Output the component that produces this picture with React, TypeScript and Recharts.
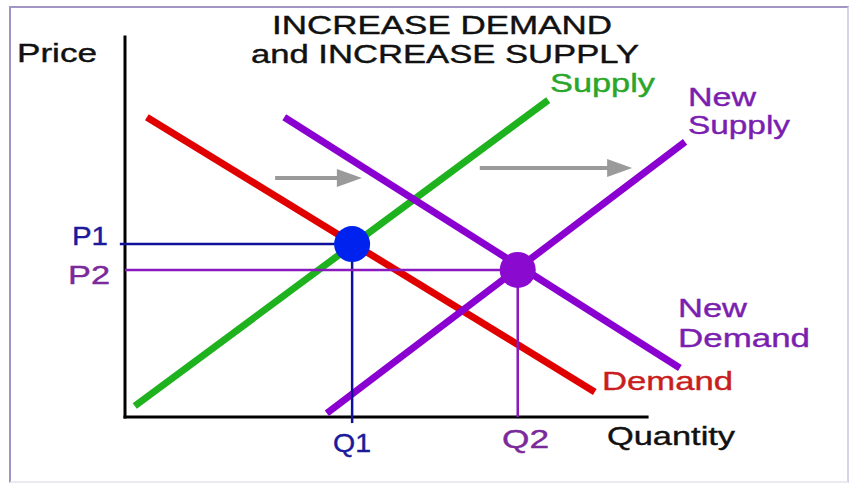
import { ComposedChart, Customized, Line, ReferenceDot, ReferenceLine, XAxis, YAxis } from "recharts";

// curves (q = quantity, p = price, both 0..10)
const demand = [{ q: 0.38, p: 7.89 }, { q: 8.17, p: 0.66 }];
const supply = [{ q: 0.17, p: 0.29 }, { q: 7.36, p: 8.34 }];
const newSupply = [{ q: 3.51, p: 0.1 }, { q: 9.74, p: 7.24 }];
const newDemand = [{ q: 2.77, p: 7.89 }, { q: 9.65, p: 1.29 }];

// equilibria
const eq1 = { q: 3.95, p: 4.55 };
const eq2 = { q: 6.83, p: 3.87 };

// grey shift arrows
const shifts = [
	{ from: 2.61, to: 4.12, p: 6.29 },
	{ from: 6.17, to: 8.82, p: 6.55 },
];

const axisEnd = { q: 9.08, p: 10 };

const FONT = "'Liberation Sans', Arial, sans-serif";

type Lbl = { text: string; x: number; y: number; w: number; color: string; size?: number };

const labels: Lbl[] = [
	{ text: "Price", x: 17, y: 62, w: 80, color: "#111", size: 25 },
	{ text: "INCREASE DEMAND", x: 272, y: 34, w: 340, color: "#111", size: 25 },
	{ text: "and INCREASE SUPPLY", x: 251, y: 63, w: 388, color: "#111", size: 25 },
	{ text: "Supply", x: 550, y: 92, w: 105, color: "#2aa62a" },
	{ text: "New", x: 688, y: 106, w: 68, color: "#7a1fb0" },
	{ text: "Supply", x: 688, y: 134, w: 102, color: "#7a1fb0" },
	{ text: "New", x: 678, y: 317, w: 69, color: "#7a1fb0" },
	{ text: "Demand", x: 678, y: 347, w: 132, color: "#7a1fb0" },
	{ text: "Demand", x: 602, y: 390, w: 131, color: "#c81e1e" },
	{ text: "P1", x: 72, y: 245, w: 36, color: "#1a1a9a" },
	{ text: "P2", x: 68, y: 284, w: 42, color: "#7a2a9a" },
	{ text: "Q1", x: 333, y: 452, w: 38, color: "#1a1a9a" },
	{ text: "Q2", x: 502, y: 448, w: 47, color: "#7a2a9a" },
	{ text: "Quantity", x: 607, y: 445, w: 128, color: "#111" },
];

const Labels = () => (
	<g fontFamily={FONT}>
		{labels.map((l, i) => (
			<text
				key={i}
				x={l.x}
				y={l.y}
				fontSize={l.size ?? 26}
				fill={l.color}
				stroke={l.color}
				strokeWidth={0.4}
				textLength={l.w}
				lengthAdjust="spacingAndGlyphs"
			>
				{l.text}
			</text>
		))}
	</g>
);

const Arrow = (props: any) => {
	const { x1, y1, x2, y2 } = props;
	const head = 25;
	return (
		<g>
			<line x1={x1} y1={y1} x2={x2 - head + 2} y2={y2} stroke="#9a9a9a" strokeWidth={4} />
			<polygon
				points={`${x2},${y2} ${x2 - head},${y2 - 9} ${x2 - head},${y2 + 9}`}
				fill="#9a9a9a"
			/>
		</g>
	);
};

export default function App() {
	return (
		<div style={{ position: "absolute", left: 0, top: 0, width: 849, height: 484, background: "#fff" }}>
			<div
				style={{
					position: "absolute",
					left: 9,
					top: 6,
					width: 836,
					height: 473,
					borderTop: "2px solid #a394c6",
					borderLeft: "2px solid #a394c6",
					borderRight: "2px solid #d8d2e6",
					borderBottom: "2px solid #ece9f2",
				}}
			/>
			<div style={{ position: "absolute", left: 0, top: 0 }}>
				<ComposedChart
					width={849}
					height={484}
					margin={{ top: 37, right: 149, bottom: 67, left: 125 }}
				>
					<XAxis type="number" dataKey="q" domain={[0, 10]} hide />
					<YAxis type="number" dataKey="p" domain={[0, 10]} hide />

					{/* axes */}
					<ReferenceLine
						segment={[{ x: 0, y: 0 }, { x: 0, y: axisEnd.p }]}
						stroke="#000"
						strokeWidth={3}
						strokeLinecap="square"
						ifOverflow="visible"
					/>
					<ReferenceLine
						segment={[{ x: 0, y: 0 }, { x: axisEnd.q, y: 0 }]}
						stroke="#000"
						strokeWidth={3}
						strokeLinecap="square"
						ifOverflow="visible"
					/>

					{shifts.map((s, i) => (
						<ReferenceLine
							key={i}
							segment={[{ x: s.from, y: s.p }, { x: s.to, y: s.p }]}
							shape={Arrow}
							ifOverflow="visible"
						/>
					))}

					<Line data={supply} dataKey="p" type="linear" stroke="#1fb21f" strokeWidth={7} dot={false} isAnimationActive={false} />
					<Line data={demand} dataKey="p" type="linear" stroke="#e00000" strokeWidth={7} dot={false} isAnimationActive={false} />
					<Line data={newSupply} dataKey="p" type="linear" stroke="#8a00d0" strokeWidth={7} dot={false} isAnimationActive={false} />
					<Line data={newDemand} dataKey="p" type="linear" stroke="#8a00d0" strokeWidth={7} dot={false} isAnimationActive={false} />

					{/* guide lines to the equilibria */}
					<ReferenceLine
						segment={[{ x: -0.09, y: eq1.p }, { x: eq1.q, y: eq1.p }]}
						stroke="#10109a"
						strokeWidth={2.5}
						ifOverflow="visible"
					/>
					<ReferenceLine
						segment={[{ x: eq1.q, y: -0.16 }, { x: eq1.q, y: eq1.p }]}
						stroke="#10109a"
						strokeWidth={2.5}
						ifOverflow="visible"
					/>
					<ReferenceLine
						segment={[{ x: 0, y: eq2.p }, { x: eq2.q, y: eq2.p }]}
						stroke="#8a1ac0"
						strokeWidth={2.5}
						ifOverflow="visible"
					/>
					<ReferenceLine
						segment={[{ x: eq2.q, y: 0 }, { x: eq2.q, y: eq2.p }]}
						stroke="#8a1ac0"
						strokeWidth={2.5}
						ifOverflow="visible"
					/>

					<ReferenceDot x={eq1.q} y={eq1.p} r={18} fill="#0022ee" stroke="none" ifOverflow="visible" />
					<ReferenceDot x={eq2.q} y={eq2.p} r={18} fill="#8a0ad0" stroke="none" ifOverflow="visible" />

					<Customized component={Labels} />
				</ComposedChart>
			</div>
		</div>
	);
}
